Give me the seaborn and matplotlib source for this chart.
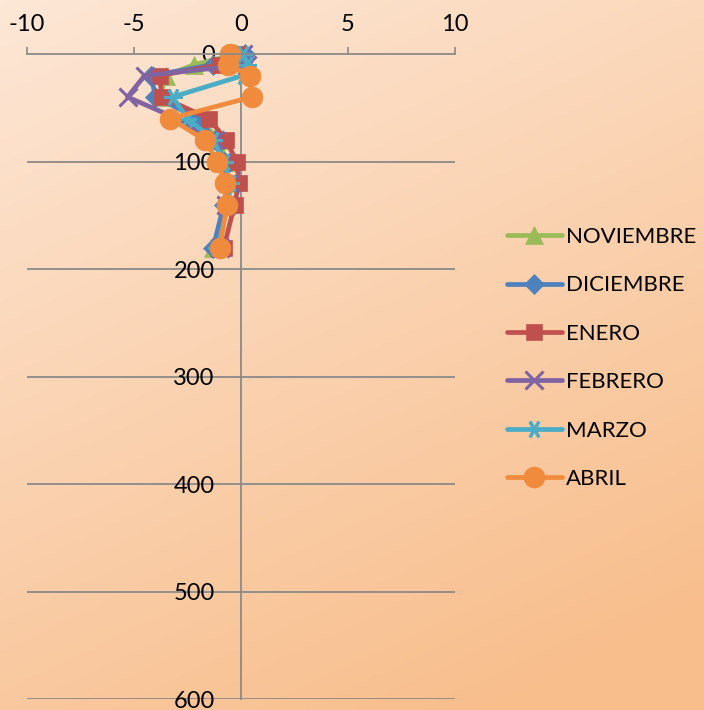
import numpy as np
import pandas as pd
import seaborn as sns
import matplotlib.pyplot as plt

# profundidades (eje vertical, invertido)
profundidad = [0, 10, 20, 40, 60, 80, 100, 120, 140, 180]

meses = ['NOVIEMBRE', 'DICIEMBRE', 'ENERO', 'FEBRERO', 'MARZO', 'ABRIL']

noviembre = [-0.2, -2.2, -3.5, -3.8, -2.0, -1.0, -0.7, -0.6, -0.7, -1.3]
diciembre = [0.2, -1.3, -4.2, -4.0, -2.0, -1.2, -0.8, -0.6, -0.8, -1.3]
enero = [-0.2, -1.0, -3.8, -3.7, -1.5, -0.7, -0.2, -0.1, -0.3, -0.8]
febrero = [0.1, 0.3, -4.5, -5.3, -3.0, -1.2, -0.9, -0.5, -0.7, -1.0]
marzo = [0.1, 0.3, 0.1, -3.2, -2.5, -1.3, -0.8, -0.5, -0.6, -1.1]
abril = [-0.5, -0.6, 0.4, 0.5, -3.3, -1.7, -1.1, -0.75, -0.65, -1.0]

series = [noviembre, diciembre, enero, febrero, marzo, abril]

df = pd.DataFrame({
    'mes': np.repeat(meses, len(profundidad)),
    'prof': profundidad * len(meses),
    'valor': np.concatenate(series),
})

colores = ['#9bbb59', '#4f81bd', '#c0504d', '#8064a2', '#4bacc6', '#f08a3c']
marcadores = ['^', 'D', 's', 'x', (6, 2, 90), 'o']
tamanos = [13, 10, 12, 13, 13, 15]

plt.rcParams['font.family'] = ['Lato', 'DejaVu Sans']
plt.rcParams['axes.unicode_minus'] = False

fig = plt.figure(figsize=(7.04, 7.10), dpi=100)

# fondo degradado
bg = fig.add_axes([0, 0, 1, 1], zorder=-5)
yy, xx = np.mgrid[0:1:200j, 0:1:200j]
t = np.clip(0.75 * yy + 0.35 * xx, 0, 1)
c0 = np.array([253, 231, 214]) / 255
c1 = np.array([248, 190, 140]) / 255
img = c0[None, None, :] * (1 - t[..., None]) + c1[None, None, :] * t[..., None]
bg.imshow(img, aspect='auto', extent=[0, 1, 0, 1], origin='upper')
bg.axis('off')

ax = fig.add_axes([27 / 704, 1 - 699 / 710, 428 / 704, 645 / 710])
ax.patch.set_alpha(0)

sns.lineplot(
    data=df, x='valor', y='prof', hue='mes', hue_order=meses,
    palette=colores, sort=False, estimator=None, legend=False,
    linewidth=3.4, ax=ax,
)

lineas = ax.get_lines()
for ln, m, ms, c in zip(lineas, marcadores, tamanos, colores):
    ln.set_marker(m)
    ln.set_markersize(ms)
    ln.set_markerfacecolor(c)
    ln.set_markeredgecolor(c)
    ln.set_markeredgewidth(2.2 if m in ('x', (6, 2, 90)) else 0.5)
    ln.set_solid_capstyle('round')
    ln.set_clip_on(False)

ax.set_xlim(-10, 10)
ax.set_ylim(600, 0)
ax.set_xticks([-10, -5, 0, 5, 10])
ax.set_yticks([0, 100, 200, 300, 400, 500, 600])
ax.xaxis.tick_top()
ax.set_xlabel('')
ax.set_ylabel('')

for y in [100, 200, 300, 400, 500, 600]:
    ax.axhline(y, color='#8a8a8a', linewidth=1.3, zorder=0)

ax.spines['right'].set_visible(False)
ax.spines['bottom'].set_visible(False)
ax.spines['left'].set_position(('data', 0))
ax.spines['left'].set_color('#8a8a8a')
ax.spines['top'].set_color('#8a8a8a')
ax.spines['left'].set_linewidth(1.3)
ax.spines['top'].set_linewidth(1.3)
ax.spines['left'].set_zorder(0)

ax.tick_params(axis='x', direction='out', length=5, width=1.2, color='#8a8a8a',
               pad=9, labelsize=17)
ax.tick_params(axis='y', length=0, pad=19, labelsize=17)

fig.legend(
    lineas, meses, loc='center left', bbox_to_anchor=(496 / 704, 1 - 358 / 710),
    frameon=False, fontsize=16, handlelength=2.45, handletextpad=0.2,
    labelspacing=1.28, borderpad=0, numpoints=1,
)

plt.savefig('out.png', dpi=100)
